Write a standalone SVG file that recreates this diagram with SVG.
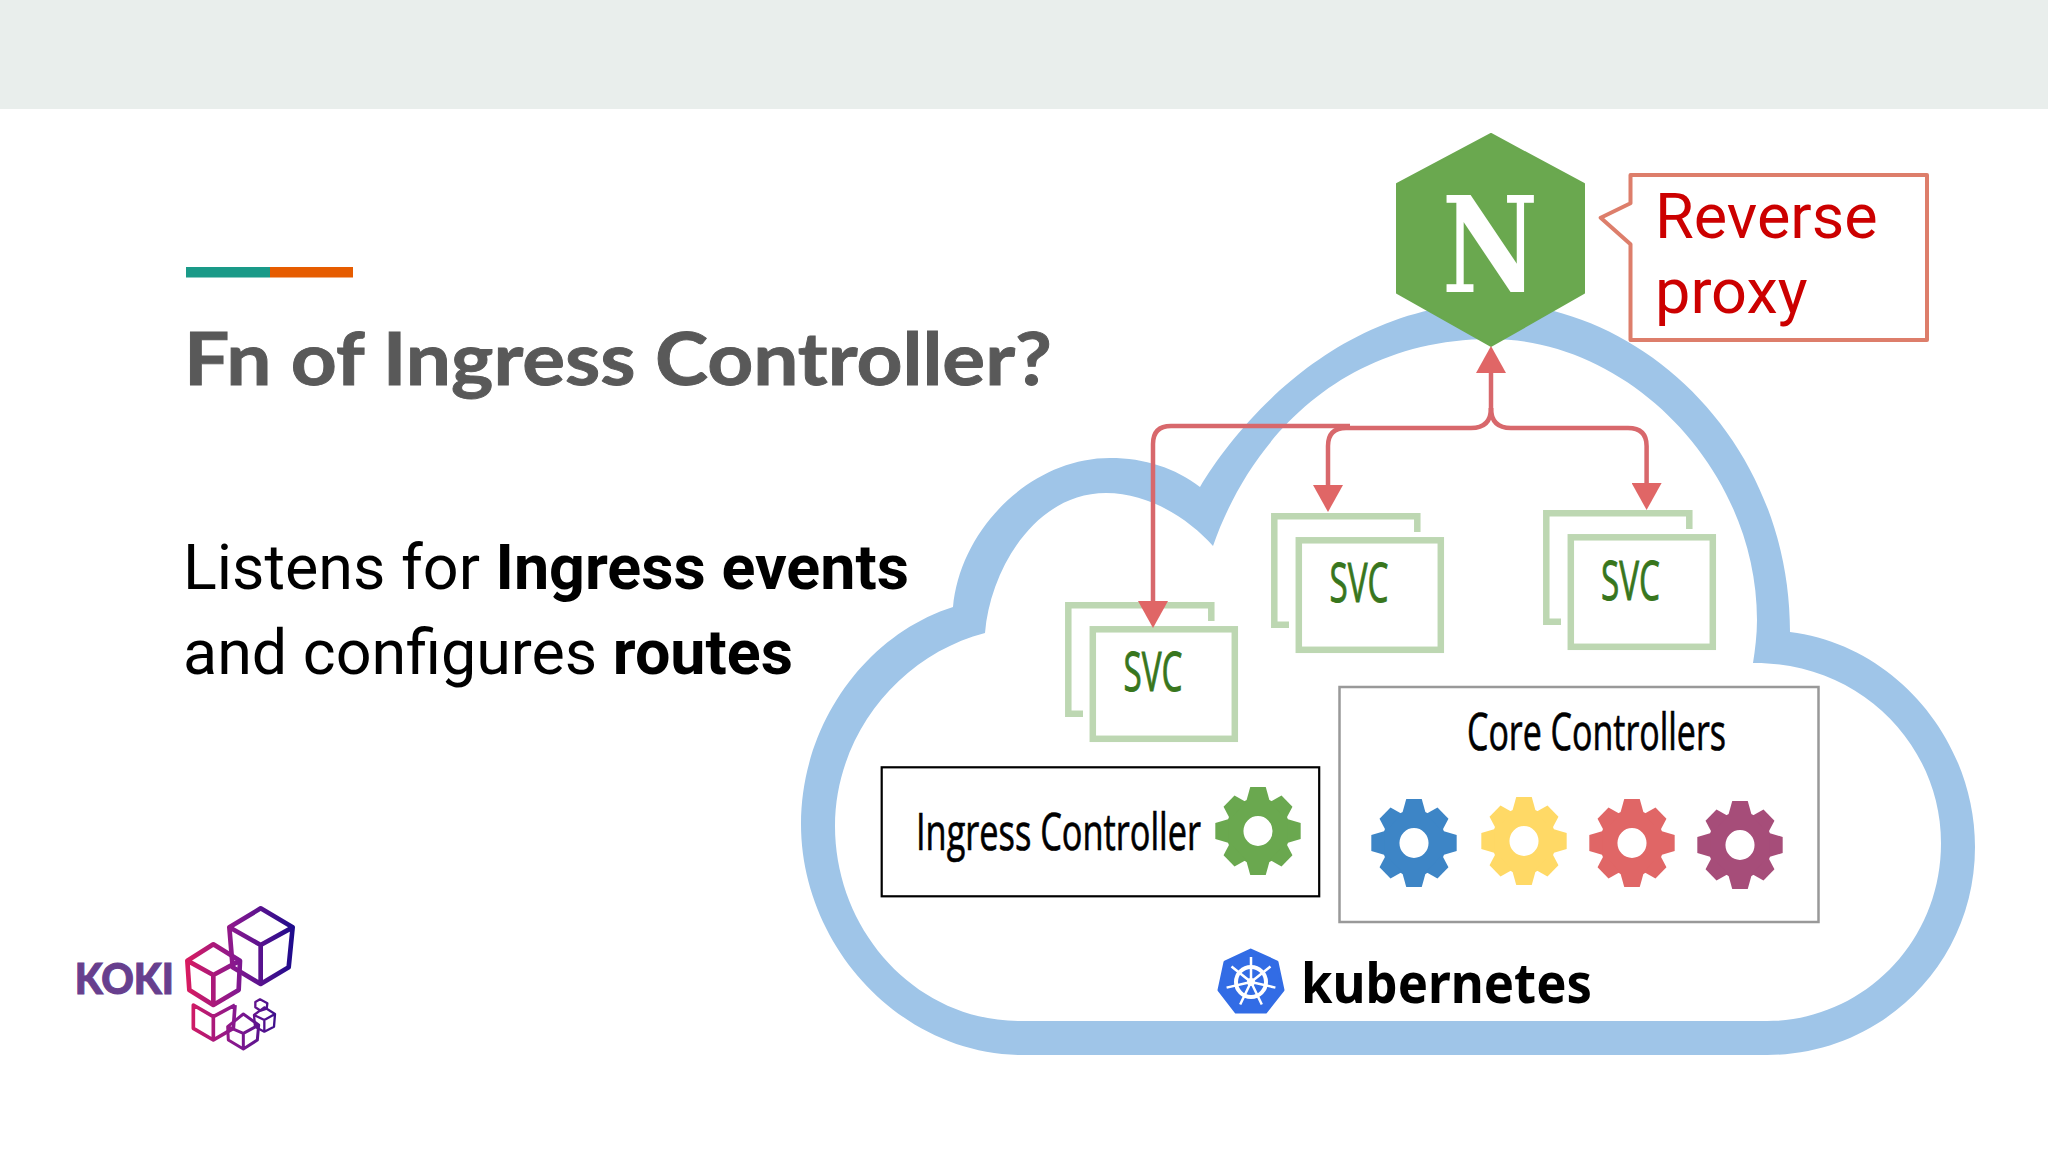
<svg xmlns="http://www.w3.org/2000/svg" width="2048" height="1152" viewBox="0 0 2048 1152">
<style>
.body{font-family:"Roboto","Liberation Sans",sans-serif;font-size:62.8px;fill:#000}
.body .b{font-weight:700}
.cond{font-family:"Open Sans","Liberation Sans",sans-serif;font-size:52px;fill:#000;stroke:#000;stroke-width:.7}
.svc{font-family:"Open Sans","Liberation Sans",sans-serif;font-size:54px;fill:#38761d;stroke:#38761d;stroke-width:.9}
.callout{font-family:"Roboto","Liberation Sans",sans-serif;font-size:63px;fill:#c00}
.conn{fill:none;stroke:#d8686c;stroke-width:4.5}
.svcb{fill:none;stroke:#bdd7b2;stroke-width:6.5}
.cube{fill:none;stroke:url(#cubeGrad);stroke-width:14;stroke-linejoin:round}
</style>
<defs>
<marker id="ah" viewBox="0 0 27 30" refX="0" refY="15" markerWidth="27" markerHeight="30" markerUnits="userSpaceOnUse" orient="auto"><path d="M0,0L27,15L0,30Z" fill="#e06666"/></marker>
<linearGradient id="cubeGrad" gradientUnits="userSpaceOnUse" x1="410" y1="0" x2="735" y2="0"><stop offset="0" stop-color="#d81b60"/><stop offset=".45" stop-color="#86188f"/><stop offset="1" stop-color="#1a0a8c"/></linearGradient>
<g id="gear">
<circle r="24" fill="none" stroke="currentColor" stroke-width="18"/>
<g fill="currentColor">
<path id="tooth" d="M-12,-30L-8,-44H8L12,-30Z"/>
<use href="#tooth" transform="rotate(45) scale(1,.96)"/><use href="#tooth" transform="rotate(90)"/><use href="#tooth" transform="rotate(135) scale(1,.96)"/><use href="#tooth" transform="rotate(180)"/><use href="#tooth" transform="rotate(225) scale(1,.96)"/><use href="#tooth" transform="rotate(270)"/><use href="#tooth" transform="rotate(315) scale(1,.96)"/>
</g>
</g>
<g id="svcBox">
<path class="svcb" d="M1289,624.8H1274.3V516.3H1417.3V532"/>
<rect class="svcb" x="1298.8" y="540.3" width="142" height="109.5"/>
</g>
</defs>
<rect width="2048" height="1152" fill="#fff"/>
<rect id="band" width="2048" height="109" fill="#e9eeec"/>
<g id="accent"><rect x="186" y="267" width="84" height="10.5" fill="#1a9a88"/><rect x="270" y="267" width="83" height="10.5" fill="#e65c00"/></g>
<text id="title" x="184" y="385" font-family="Lato,'Open Sans',sans-serif" font-weight="700" font-size="73" fill="#595959" stroke="#595959" stroke-width=".9" textLength="868" lengthAdjust="spacingAndGlyphs">Fn of Ingress Controller?</text>
<text id="l1" class="body" x="183" y="589">Listens for <tspan class="b">Ingress events</tspan></text>
<text id="l2" class="body" x="183" y="674">and configures <tspan class="b">routes</tspan></text>
<g id="koki" transform="translate(50,890) scale(.33333)">
<text x="74" y="313" font-family="Lato,sans-serif" font-weight="900" font-size="128" fill="#673f8e" stroke="#673f8e" stroke-width="3" textLength="298" lengthAdjust="spacingAndGlyphs">KOKI</text>
<g class="cube">
<path d="M632,55L728,112L716,232L632,282L548,232L538,112ZM538,112L632,165L728,112M632,165V282"/>
<path d="M490,163L570,212L566,300L490,345L418,300L412,212ZM412,212L490,255L570,212M490,255V345"/>
<path style="stroke-width:11" d="M555,345L550,415L490,450L430,415V345L490,380M490,380V450M490,380L555,345"/>
<path style="stroke-width:9" d="M580,372L626,405L622,450L580,477L535,450L533,410ZM533,410L580,430L626,405M580,430V477"/>
<path style="stroke-width:7" d="M643,352L675,372L672,410L643,425L615,410L612,375ZM612,375L643,390L675,372M643,390V425"/>
<path style="stroke-width:7" d="M630,328L652,340L650,356L632,362L616,352V336Z"/>
</g>
</g>
<path id="cloud" fill="#9fc5e8" fill-rule="evenodd" d="M953,607C960,530 1030,458 1110,458C1145,458 1175,468 1200,487C1240,420 1340,305 1490,303C1640,303 1790,440 1790,632C1895,645 1975,740 1975,847C1975,965 1880,1055 1767,1055H1023C900,1055 801,945 801,824C801,725 865,635 953,607ZM985,633C990,570 1035,493 1106,493C1150,493 1190,520 1213,546C1250,440 1340,340 1490,339C1630,339 1757,470 1757,620C1757,635 1755,650 1753,663C1860,662 1941,745 1941,843C1941,945 1860,1021 1767,1021H1020C915,1021 835,930 835,826C835,735 900,655 985,633Z"/>
<g id="svc1"><use href="#svcBox" x="-206" y="89"/><text class="svc" x="1123.5" y="691" textLength="59" lengthAdjust="spacingAndGlyphs">SVC</text></g>
<g id="svc2"><use href="#svcBox"/><text class="svc" x="1329.5" y="602" textLength="59" lengthAdjust="spacingAndGlyphs">SVC</text></g>
<g id="svc3"><use href="#svcBox" x="272" y="-3"/><text class="svc" x="1601" y="600" textLength="59" lengthAdjust="spacingAndGlyphs">SVC</text></g>
<g id="nginx">
<path d="M1491,134L1584,184V293L1491,346L1397,293V184Z" fill="#6aa84f" stroke="#6aa84f" stroke-width="2" stroke-linejoin="round"/>
<text x="1442" y="292" font-family="'DejaVu Serif',serif" font-weight="700" font-size="133" fill="#fff" textLength="96" lengthAdjust="spacingAndGlyphs">N</text>
</g>
<g id="callout">
<path d="M1630.5,175H1927V340H1630.5V244.3L1600.7,217.7L1630.5,203.3Z" fill="#fff" stroke="#dd7e6b" stroke-width="4" stroke-linejoin="round"/>
<text class="callout" x="1655" y="238">Reverse</text>
<text class="callout" x="1655" y="313">proxy</text>
</g>
<g id="connectors">
<path class="conn" d="M1491,415V373" marker-end="url(#ah)"/>
<path class="conn" d="M1491,408Q1491,428 1511,428H1628Q1646.6,428 1646.6,446V483" marker-end="url(#ah)"/>
<path class="conn" d="M1491,408Q1491,428 1471,428H1346Q1328,428 1328,446V485" marker-end="url(#ah)"/>
<path class="conn" d="M1350,426H1171Q1153,426 1153,444V601" marker-end="url(#ah)"/>
</g>
<g id="ingress">
<rect x="881.7" y="767.3" width="437.5" height="129" fill="#fff" stroke="#000" stroke-width="2.2"/>
<text class="cond" x="916" y="850" textLength="285" lengthAdjust="spacingAndGlyphs">Ingress Controller</text>
<use href="#gear" transform="translate(1258,831) scale(.97,1)" color="#6aa84f"/>
</g>
<g id="core">
<rect x="1339.5" y="687" width="479" height="235" fill="#fff" stroke="#999" stroke-width="2.5"/>
<text class="cond" x="1467" y="750" textLength="259" lengthAdjust="spacingAndGlyphs">Core Controllers</text>
<use href="#gear" transform="translate(1414,843) scale(.97,1)" color="#3d85c6"/>
<use href="#gear" transform="translate(1524,841) scale(.97,1)" color="#ffd966"/>
<use href="#gear" transform="translate(1632,843) scale(.97,1)" color="#e06666"/>
<use href="#gear" transform="translate(1740,845) scale(.97,1)" color="#a64d79"/>
</g>
<g id="k8s">
<path d="M1250.7,950L1277,962L1283,990L1265.7,1012H1236L1219,990L1225,962Z" fill="#326ce5" stroke="#326ce5" stroke-width="3" stroke-linejoin="round"/>
<circle cx="1251" cy="982" r="15" fill="none" stroke="#fff" stroke-width="4"/>
<circle cx="1251" cy="982" r="4" fill="#fff"/>
<path fill="none" stroke="#fff" stroke-width="2.5" d="M1251,982V957M1251,982L1270.5,966.5M1251,982L1275.4,987.6M1251,982L1261.8,1004.5M1251,982L1240.2,1004.5M1251,982L1226.6,987.6M1251,982L1231.5,966.5"/>
<text x="1301" y="1002.5" font-family="'Noto Sans','Open Sans',sans-serif" font-weight="700" font-size="55" fill="#000" textLength="291" lengthAdjust="spacingAndGlyphs">kubernetes</text>
</g>
</svg>
